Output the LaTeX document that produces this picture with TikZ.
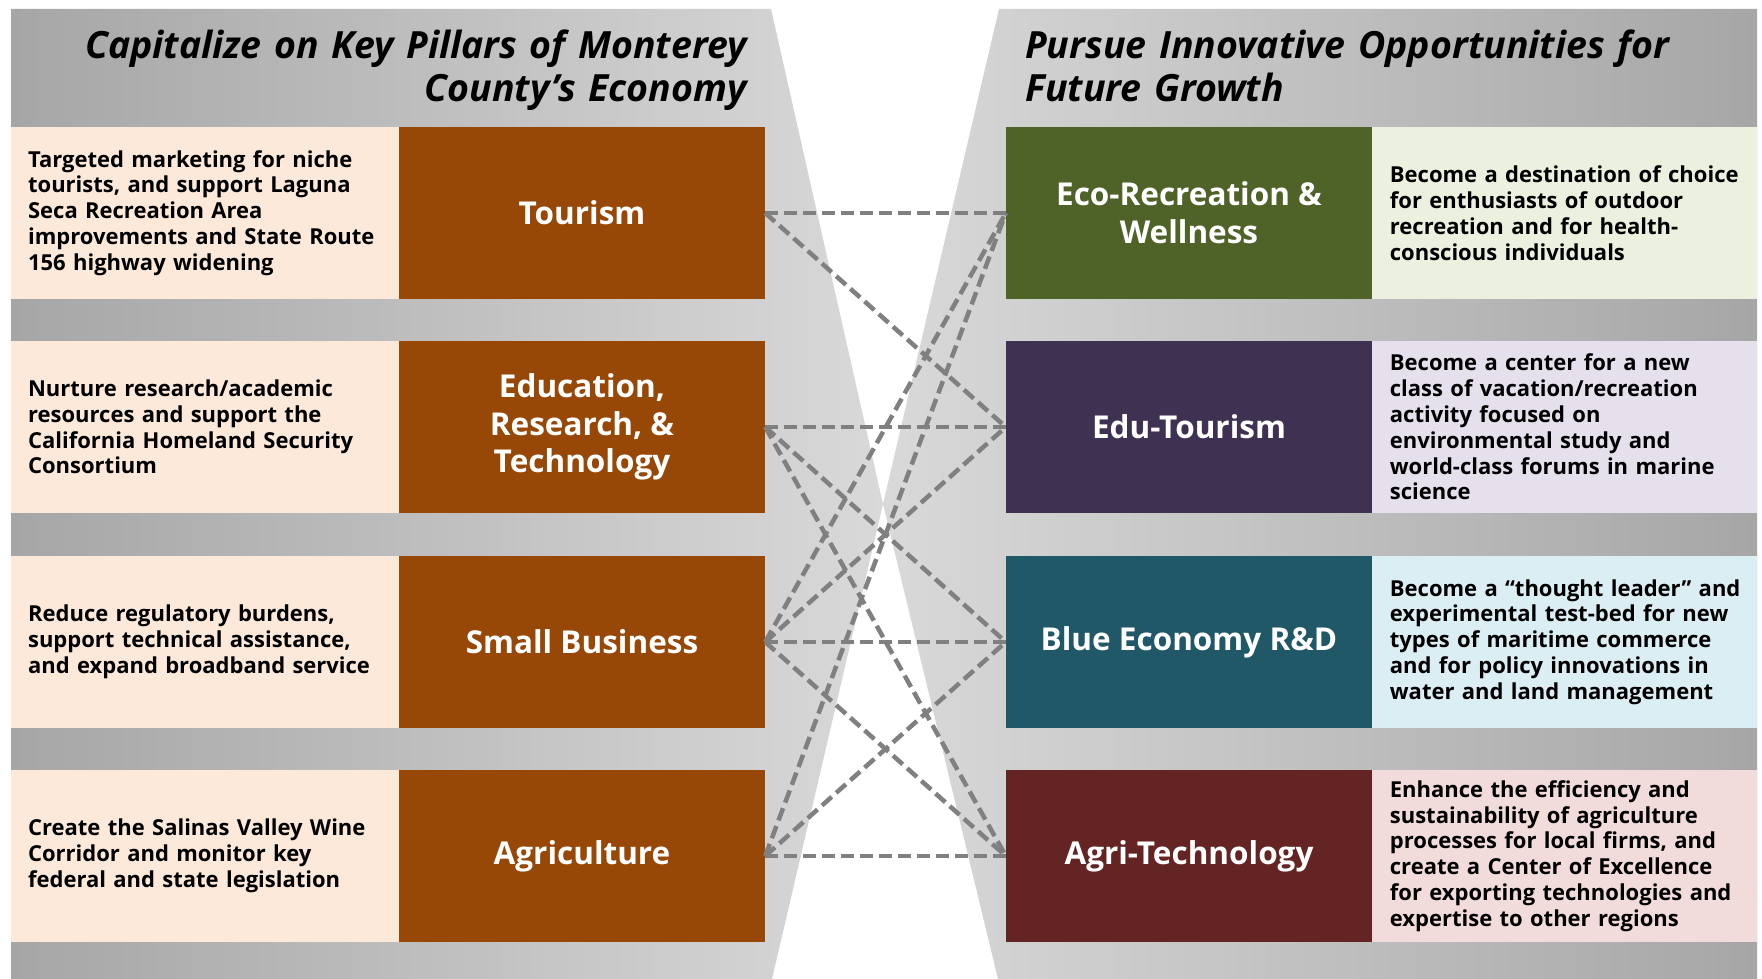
\documentclass[tikz,border=0pt]{standalone}
\usepackage{fontspec}
\setmainfont{Open Sans}
\usepackage{xcolor}
\usepackage{tikz}
\usetikzlibrary{positioning}
\definecolor{pillarbrown}{HTML}{974706}
\definecolor{ecogreen}{HTML}{4F6228}
\definecolor{edupurple}{HTML}{3F3151}
\definecolor{blueteal}{HTML}{215868}
\definecolor{agrired}{HTML}{632423}
\definecolor{peach}{HTML}{FDE9D9}
\definecolor{ecolight}{HTML}{EBF1DE}
\definecolor{edulight}{HTML}{E5E0EC}
\definecolor{bluelight}{HTML}{DBEEF4}
\definecolor{agrilight}{HTML}{F2DCDB}
\definecolor{panellight}{HTML}{D9D9D9}
\definecolor{paneldark}{HTML}{A6A6A6}
\definecolor{linkgray}{HTML}{808080}
\tikzset{
  pillar/.style={minimum width=366pt, minimum height=172pt, inner sep=0pt, text=white, align=center, font=\fontsize{31.5}{37.7}\selectfont\bfseries},
  desc/.style={minimum height=172pt, inner ysep=0pt, inner xsep=17.5pt, align=left, font=\fontsize{22}{25.8}\selectfont\bfseries},
  link/.style={draw=linkgray, line width=4.5pt, dash pattern=on 13pt off 6pt},
  paneltitle/.style={inner sep=0pt, text width=720pt, font=\fontsize{37.5}{43}\selectfont\bfseries\itshape}
}

\begin{document}
\begin{tikzpicture}[x=1pt, y=-1pt]
\fill[white] (0,0) rectangle (1762,979);
\useasboundingbox (0,0) rectangle (1762,979);
\shade[left color=paneldark, right color=panellight] (11,9) -- (771,9) -- (883,504) -- (772,979) -- (11,979) -- cycle;
\shade[left color=panellight, right color=paneldark] (999,9) -- (1757,9) -- (1757,979) -- (998,979) -- (883,504) -- cycle;
\node[paneltitle, align=right, anchor=base east] (pillarstitle) at (747,59) {Capitalize on Key Pillars of Monterey\\County’s Economy};
\node[paneltitle, align=left, anchor=base west] (growthtitle) at (1025,59) {Pursue Innovative Opportunities for\\Future Growth};

\node[pillar, fill=pillarbrown] (tourism) at (582,213) {Tourism};
\node[pillar, fill=pillarbrown] (edures) at (582,427) {Education,\\Research, \&\\Technology};
\node[pillar, fill=pillarbrown] (smallbiz) at (582,642) {Small Business};
\node[pillar, fill=pillarbrown] (agri) at (582,856) {Agriculture};
\node[desc, fill=peach, text width=353pt, left=0pt of tourism] (tourismtxt) {Targeted marketing for niche\\tourists, and support Laguna\\Seca Recreation Area\\improvements and State Route\\156 highway widening};
\node[desc, fill=peach, text width=353pt, left=0pt of edures] (edurestxt) {Nurture research/academic\\resources and support the\\California Homeland Security\\Consortium};
\node[desc, fill=peach, text width=353pt, left=0pt of smallbiz] (smallbiztxt) {Reduce regulatory burdens,\\support technical assistance,\\and expand broadband service};
\node[desc, fill=peach, text width=353pt, left=0pt of agri] (agritxt) {Create the Salinas Valley Wine\\Corridor and monitor key\\federal and state legislation};

\node[pillar, fill=ecogreen] (eco) at (1189,213) {Eco-Recreation \&\\Wellness};
\node[pillar, fill=edupurple] (edutour) at (1189,427) {Edu-Tourism};
\node[pillar, fill=blueteal] (blue) at (1189,642) {Blue Economy R\&D};
\node[pillar, fill=agrired] (agritech) at (1189,856) {Agri-Technology};
\node[desc, fill=ecolight, text width=350pt, right=0pt of eco] (ecotxt) {Become a destination of choice\\for enthusiasts of outdoor\\recreation and for health-\\conscious individuals};
\node[desc, fill=edulight, text width=350pt, right=0pt of edutour] (edutourtxt) {Become a center for a new\\class of vacation/recreation\\activity focused on\\environmental study and\\world-class forums in marine\\science};
\node[desc, fill=bluelight, text width=350pt, right=0pt of blue] (bluetxt) {Become a “thought leader” and\\experimental test-bed for new\\types of maritime commerce\\and for policy innovations in\\water and land management};
\node[desc, fill=agrilight, text width=350pt, right=0pt of agritech] (agritechtxt) {Enhance the efficiency and\\sustainability of agriculture\\processes for local firms, and\\create a Center of Excellence\\for exporting technologies and\\expertise to other regions};

\draw[link] (tourism.east) -- (eco.west);
\draw[link] (tourism.east) -- (edutour.west);
\draw[link] (edures.east) -- (edutour.west);
\draw[link] (edures.east) -- (blue.west);
\draw[link] (edures.east) -- (agritech.west);
\draw[link] (smallbiz.east) -- (eco.west);
\draw[link] (smallbiz.east) -- (edutour.west);
\draw[link] (smallbiz.east) -- (blue.west);
\draw[link] (smallbiz.east) -- (agritech.west);
\draw[link] (agri.east) -- (eco.west);
\draw[link] (agri.east) -- (blue.west);
\draw[link] (agri.east) -- (agritech.west);
\end{tikzpicture}
\end{document}
